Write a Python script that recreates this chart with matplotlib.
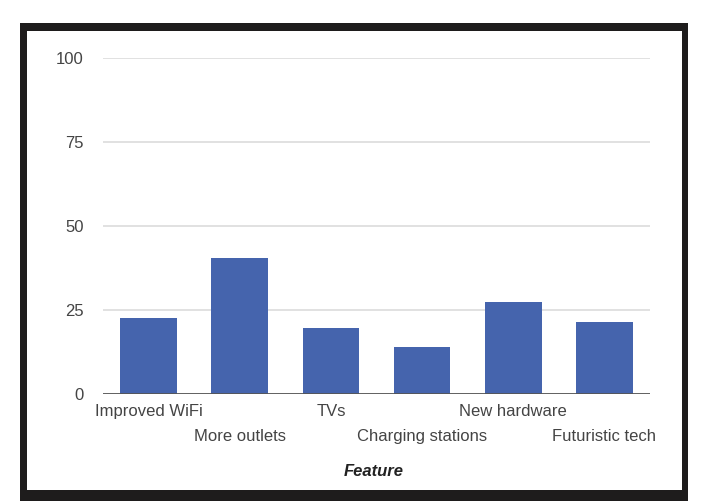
import matplotlib
matplotlib.use('Agg')
import matplotlib.pyplot as plt
from matplotlib.patches import Rectangle

# данные
features = ['Improved WiFi', 'More outlets', 'TVs', 'Charging stations', 'New hardware', 'Futuristic tech']
votes = [22.5, 40.5, 19.5, 14, 27.5, 21.5]
yticks = [0, 25, 50, 75, 100]

plt.rcParams['font.family'] = ['Liberation Sans', 'DejaVu Sans']

W, H = 719, 501
fig = plt.figure(figsize=(W / 100, H / 100), dpi=100)
fig.patch.set_facecolor('white')

# черная рамка вокруг графика
fig.patches.append(Rectangle((20 / W, 0), 668 / W, 1 - 23 / H, transform=fig.transFigure,
                             facecolor='#1e1c1c', edgecolor='none', zorder=-2))
fig.patches.append(Rectangle((27 / W, 11 / H), 655 / W, (490 - 31) / H, transform=fig.transFigure,
                             facecolor='white', edgecolor='none', zorder=-1))

ax = fig.add_axes([103 / W, 1 - 394 / H, (650 - 103) / W, (394 - 58) / H])
ax.set_facecolor('none')
ax.set_zorder(1)

x = range(len(features))
ax.bar(x, votes, width=0.62, color='#4564ad', zorder=2)

ax.set_xlim(-0.5, len(features) - 0.5)
ax.set_ylim(0, 100)
ax.set_yticks(yticks)
ax.set_yticklabels([str(v) for v in yticks])
ax.grid(axis='y', color='#dcdcdc', linewidth=1.2, zorder=0)
ax.axhline(0, color='#555555', linewidth=2, zorder=3)

for s in ax.spines.values():
    s.set_visible(False)

ax.set_xticks(list(x))
ax.set_xticklabels(features)
ax.tick_params(axis='both', length=0, labelsize=12, labelcolor='#444444')
ax.tick_params(axis='y', pad=14)

# подписи в два ряда
for i, tick in enumerate(ax.xaxis.get_major_ticks()):
    if i % 2 == 0:
        tick.set_pad(7.5)
    else:
        tick.set_pad(25.5)

fig.text(374 / W, 1 - 472 / H, 'Feature', ha='center', va='center',
         fontsize=12, fontweight='bold', fontstyle='italic', color='#222222')

fig.savefig('out.png', dpi=100)
